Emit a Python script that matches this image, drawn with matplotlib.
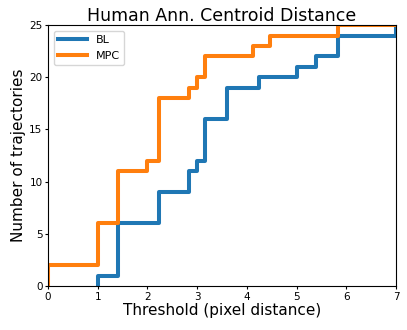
import matplotlib
matplotlib.use("Agg")
import matplotlib.pyplot as plt

bl_x = [1.0, 1.0, 1.414, 2.236, 2.828, 3.0, 3.162, 3.606, 4.243, 5.0, 5.385, 5.831, 7.0]
bl_y = [0, 1, 6, 9, 11, 12, 16, 19, 20, 21, 22, 24, 25]
mpc_x = [0, 0, 1.0, 1.414, 2.0, 2.236, 2.828, 3.0, 3.162, 4.123, 4.472, 5.831, 7.0]
mpc_y = [0, 2, 6, 11, 12, 18, 19, 20, 22, 23, 24, 25, 25]

fig = plt.figure(figsize=(4.07, 3.30), dpi=100)
ax = fig.add_axes([0.118, 0.133, 0.855, 0.791])
ax.step(bl_x, bl_y, where='post', color='#1f77b4', lw=2.9, label='BL')
ax.step(mpc_x, mpc_y, where='post', color='#ff7f0e', lw=2.9, label='MPC')
ax.set_xlim(0, 7)
ax.set_ylim(0, 25)
ax.set_xticks(range(0, 8))
ax.set_yticks([0, 5, 10, 15, 20, 25])
ax.tick_params(labelsize=7.5, length=2.5, pad=1.5)
ax.set_xlabel('Threshold (pixel distance)', fontsize=11, labelpad=1)
ax.set_ylabel('Number of trajectories', fontsize=11, labelpad=2)
ax.set_title('Human Ann. Centroid Distance', fontsize=12.5, pad=3)
ax.legend(loc='upper left', fontsize=8, handlelength=2.6)
fig.savefig('out.png', dpi=100)
